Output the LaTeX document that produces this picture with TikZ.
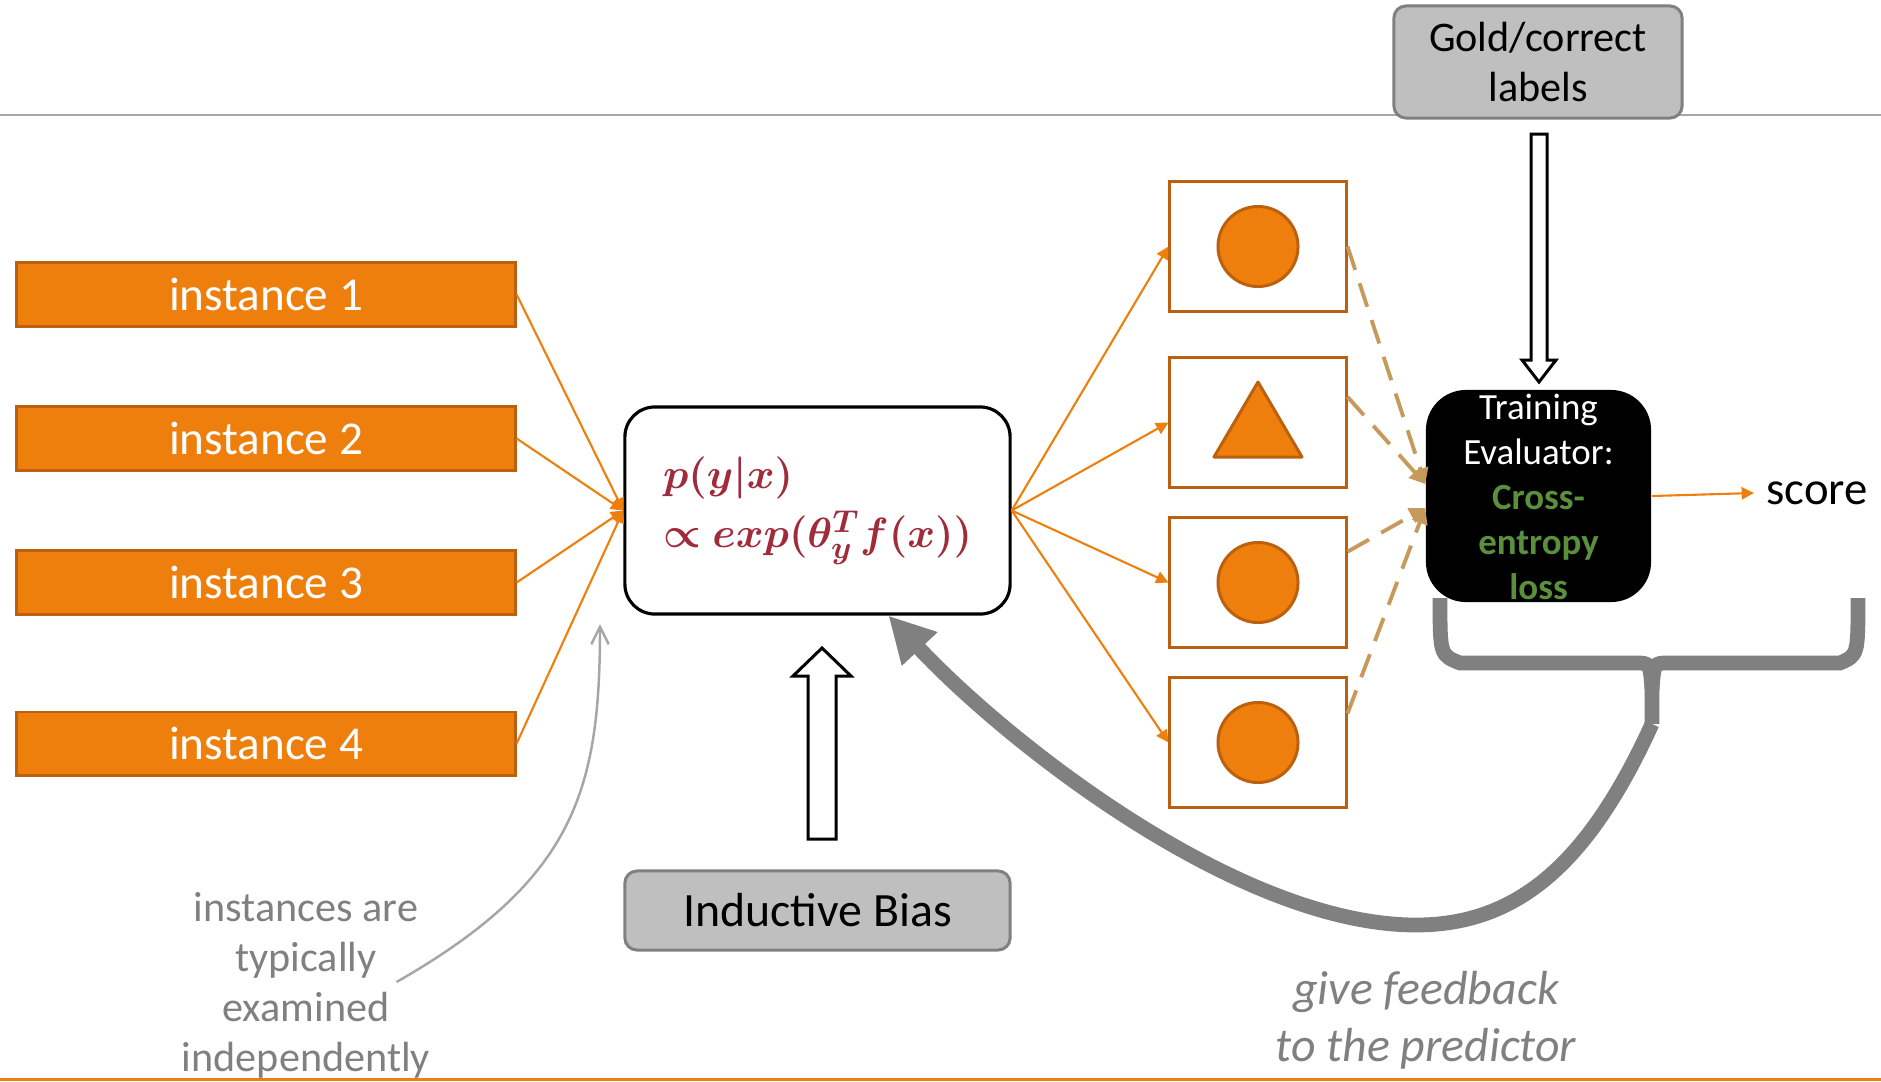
\documentclass[tikz,border=0pt]{standalone}
\usepackage{amsmath,amssymb,bm}
\usepackage{fontspec}
\setmainfont{Carlito}
\usepackage{tikz}
\usetikzlibrary{calc,arrows.meta}
\definecolor{orng}{HTML}{EF7F0C}
\definecolor{orngdk}{HTML}{BB600F}
\definecolor{dashtan}{HTML}{C69A5B}
\definecolor{greyd}{HTML}{808080}
\definecolor{greyl}{HTML}{BFBFBF}
\definecolor{greyt}{HTML}{A6A6A6}
\definecolor{lossgreen}{HTML}{5A8F3C}
\definecolor{formred}{HTML}{A02B3B}
\tikzset{
  inst/.style={rectangle, fill=orng, draw=orngdk, line width=0.85pt, minimum width=4.98cm, minimum height=0.63cm, inner sep=0pt, text=white, font=\fontsize{13.4}{16}\selectfont},
  predbox/.style={rectangle, rounded corners=0.3cm, draw=black, line width=0.9pt, minimum width=3.85cm, minimum height=2.07cm, align=left, text=formred, font=\fontsize{12.5}{17}\selectfont},
  outbox/.style={rectangle, draw=orngdk, line width=0.85pt, minimum width=1.76cm, minimum height=1.29cm, inner sep=0pt},
  dotc/.style={circle, fill=orng, draw=orngdk, line width=0.85pt, minimum size=0.8cm, inner sep=0pt},
  tri/.style={fill=orng, draw=orngdk, line width=0.85pt, line join=round},
  evalbox/.style={rectangle, rounded corners=0.4cm, fill=black, minimum width=2.25cm, minimum height=2.12cm, inner sep=0pt},
  evaltxt/.style={align=center, text=white, inner sep=0pt, font=\fontsize{10.5}{12.8}\selectfont},
  greybox/.style={rectangle, rounded corners=0.12cm, fill=greyl, draw=greyd, line width=0.85pt, align=center, inner sep=0pt},
  oarr/.style={draw=orng, line width=0.6pt, -{Triangle[length=3.5pt,width=3.5pt]}},
  darr/.style={draw=dashtan, line width=1.1pt, dash pattern=on 7pt off 4pt, -{Triangle[length=4.5pt,width=4.5pt]}},
  hollow/.style={draw=black, fill=white, line width=0.85pt, line join=miter},
  hintarr/.style={draw=greyt, line width=0.7pt, -{Straight Barb[length=5pt,width=5pt]}},
  fbarr/.style={draw=greyd, line width=4.2pt, -{Triangle[length=13pt,width=13pt]}},
  brace/.style={draw=greyd, line width=4.2pt},
}
\begin{document}
\begin{tikzpicture}[x=0.01cm,y=-0.01cm]
  \useasboundingbox (0,0) rectangle (1881,1081);
  \draw[greyt, line width=0.6pt] (0,115) -- (1881,115);
  \draw[orng, line width=0.6pt] (0,1079.5) -- (1881,1079.5);

  % inputs and predictor
  \foreach \i/\y in {1/294.5,2/438.5,3/582.5,4/743.5}
    \node[inst] (ins\i) at (266,\y) {instance \i};
  \node[predbox] (pred) at (817.5,510.5) {$\bm{p(y|x)}$\\$\bm{\propto exp(\theta_y^T f(x))}$};
  \foreach \i in {1,...,4}
    \draw[oarr] (ins\i.east) -- (pred.west);

  % predicted outputs
  \foreach \i/\y in {1/246.5,2/422.5,3/582.5,4/742.5}
    \node[outbox] (out\i) at (1258,\y) {};
  \node[dotc] (c1) at (out1) {};
  \node[dotc] (c3) at (out3) {};
  \node[dotc] (c4) at (out4) {};
  \filldraw[tri] ($(out2)+(-44,34.5)$) -- ($(out2)+(44,34.5)$) -- ($(out2)+(0,-40.5)$) -- cycle;
  \foreach \i in {1,...,4}
    \draw[oarr] (pred.east) -- (out\i.west);

  % evaluator
  \node[evalbox] (eval) at (1538.5,496) {};
  \node[evaltxt] (evaltxt) at (1538.5,497) {Training\\Evaluator:\\\textcolor{lossgreen}{\bfseries Cross-}\\\textcolor{lossgreen}{\bfseries entropy}\\\textcolor{lossgreen}{\bfseries loss}};
  \draw[darr] (out1.east) -- (eval.174);
  \draw[darr] (out2.16) -- (eval.174);
  \draw[darr] (out3.19) -- (eval.186);
  \draw[darr] (out4.18) -- (eval.186);
  \node[font=\fontsize{13.3}{16}\selectfont] (score) at (1817,493) {score};
  \draw[oarr] (eval.east) -- (score.west);

  \node[greybox, minimum width=2.88cm, minimum height=1.12cm, font=\fontsize{12}{14.2}\selectfont] (gold) at (1538,62) {Gold/correct\\labels};
  \draw[hollow] (1531,134) -- (1531,360) -- (1522,360) -- (1539,382) -- (1556,360) -- (1547,360) -- (1547,134) -- cycle;

  \node[greybox, minimum width=3.85cm, minimum height=0.79cm, font=\fontsize{13.6}{16}\selectfont] (bias) at (817.5,910.5) {Inductive Bias};
  \draw[hollow] (808,839) -- (808,676) -- (793,676) -- (822,648) -- (851,676) -- (836,676) -- (836,839) -- cycle;

  % notes
  \node[align=center, text=greyd, font=\fontsize{12}{14.2}\selectfont] (note) at (306,985) {instances are\\typically\\examined\\independently};
  \coordinate (hint) at (600,624);
  \draw[hintarr] ($(note.east)+(-46,-3)$) .. controls (575,880) and (600,790) .. (hint);

  % feedback
  \coordinate (tip) at (1652,724);
  \draw[brace] (1440,598) .. controls (1440,655) .. (1460,663) -- (1636,663) .. controls (1650,663) .. (1652,690) -- (tip);
  \draw[brace] (1858,598) .. controls (1858,655) .. (1840,663) -- (1668,663) .. controls (1654,663) .. (1652,690);
  \draw[fbarr] (tip) .. controls (1590,860) and (1520,925) .. (1416,925) .. controls (1240,925) and (1010,745) .. (pred.-56);
  \node[align=center, text=greyd, font=\fontsize{13.6}{16.2}\selectfont\itshape] (fb) at (1426,1020) {give feedback\\to the predictor};
\end{tikzpicture}
\end{document}
